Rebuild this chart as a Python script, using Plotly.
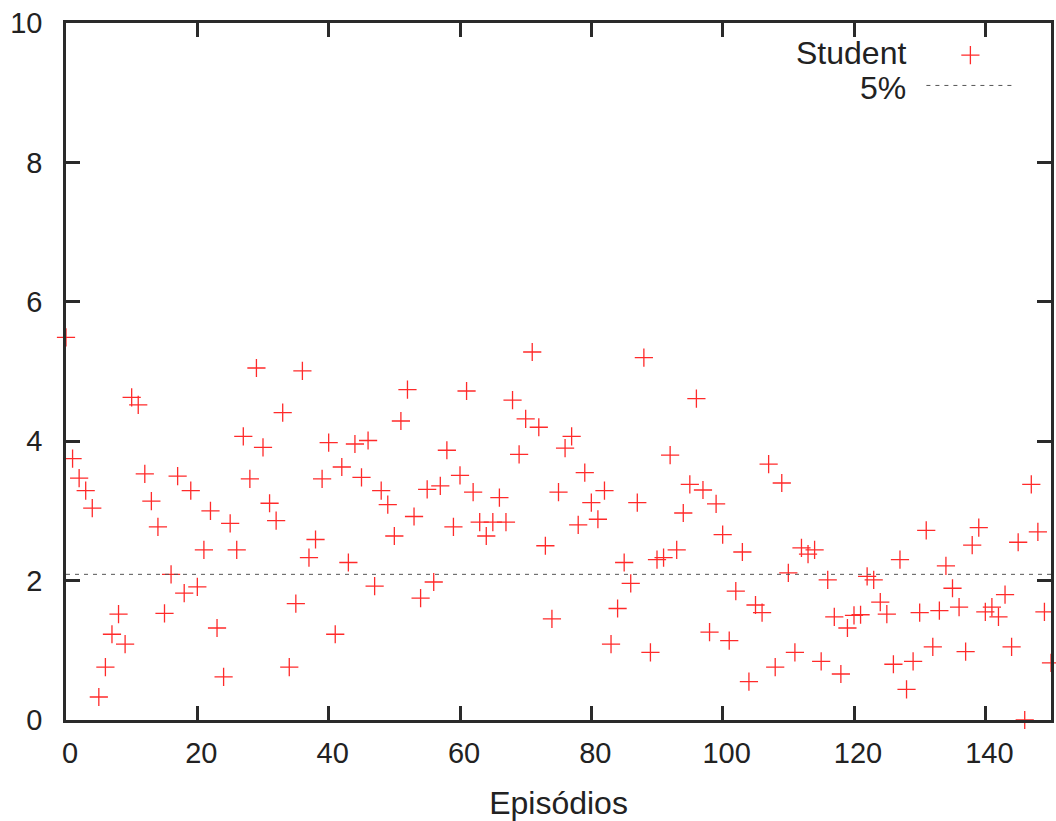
import plotly.graph_objects as go

episodes = list(range(0, 151))
student = [
    5.49, 3.75, 3.47, 3.29, 3.04, 0.33, 0.76, 1.23, 1.52, 1.09,
    4.63, 4.52, 3.53, 3.14, 2.77, 1.53, 2.09, 3.50, 1.82, 3.29,
    1.91, 2.44, 3.00, 1.32, 0.62, 2.82, 2.44, 4.07, 3.46, 5.05,
    3.91, 3.11, 2.86, 4.41, 0.76, 1.67, 5.01, 2.33, 2.59, 3.46,
    3.98, 1.23, 3.63, 2.26, 3.96, 3.48, 4.01, 1.92, 3.29, 3.09,
    2.64, 4.29, 4.74, 2.92, 1.75, 3.31, 1.98, 3.36, 3.87, 2.77,
    3.51, 4.72, 3.27, 2.84, 2.64, 2.84, 3.19, 2.84, 4.59, 3.81,
    4.32, 5.28, 4.20, 2.50, 1.45, 3.27, 3.90, 4.07, 2.80, 3.55,
    3.12, 2.88, 3.29, 1.09, 1.60, 2.26, 1.96, 3.12, 5.20, 0.97,
    2.30, 2.33, 3.80, 2.44, 2.97, 3.38, 4.61, 3.30, 1.26, 3.10,
    2.66, 1.14, 1.85, 2.41, 0.55, 1.65, 1.54, 3.67, 0.76, 3.40,
    2.11, 0.97, 2.47, 2.38, 2.44, 0.84, 2.01, 1.48, 0.66, 1.32,
    1.50, 1.51, 2.06, 2.01, 1.69, 1.52, 0.80, 2.30, 0.44, 0.84,
    1.54, 2.72, 1.05, 1.57, 2.21, 1.89, 1.62, 0.98, 2.51, 2.76,
    1.55, 1.62, 1.48, 1.80, 1.05, 2.55, 0.00, 3.38, 2.70, 1.55,
    0.82,
]
threshold_x = [0, 150]
threshold_y = [2.09, 2.09]
x_ticks = [0, 20, 40, 60, 80, 100, 120, 140]
y_ticks = [0, 2, 4, 6, 8, 10]
legend_labels = ["Student", "5%"]

FONT = "Liberation Sans, Arial, Helvetica, sans-serif"
TXT = "#222222"
AX = "#2a2a2a"

fig = go.Figure()
fig.add_trace(go.Scatter(
    x=episodes, y=student, mode="markers", name="",
    marker=dict(symbol="cross-thin-open", size=13, color="#ff2a2a",
                line=dict(width=1.3, color="#ff2a2a")),
    cliponaxis=False, showlegend=True,
))
fig.add_trace(go.Scatter(
    x=threshold_x, y=threshold_y, mode="lines", name="",
    line=dict(color="#555555", width=1, dash="4px,5px"),
    showlegend=True,
))

axis_common = dict(
    showgrid=False, zeroline=False, showline=True, linecolor=AX, linewidth=2.5,
    mirror="ticks", ticks="inside", ticklen=14, tickwidth=2.5, tickcolor=AX,
    tickfont=dict(family=FONT, size=29, color=TXT),
)
fig.update_xaxes(range=[0, 150], tickmode="array", tickvals=x_ticks,
                 ticklabelstandoff=5, ticklabelshift=4,
                 title=dict(text="Episódios", font=dict(family=FONT, size=32, color=TXT), standoff=28),
                 **axis_common)
fig.update_yaxes(range=[0, 10], tickmode="array", tickvals=y_ticks,
                 ticklabelstandoff=15, **axis_common)

for label, py in zip(legend_labels, [53, 88]):
    fig.add_annotation(text=label, xref="paper", yref="paper",
                       x=(911 - 66) / 988, y=(720 - py) / 697, xanchor="right", yanchor="middle",
                       showarrow=False, font=dict(family=FONT, size=32, color=TXT))

fig.update_layout(
    width=1056, height=821,
    margin=dict(l=66, r=2, t=23, b=101),
    paper_bgcolor="white", plot_bgcolor="white",
    legend=dict(x=(924 - 66) / 988, y=(720 - 35) / 697, xanchor="left", yanchor="top",
                bgcolor="rgba(0,0,0,0)", itemwidth=88, tracegroupgap=0,
                font=dict(family=FONT, size=21, color=TXT)),
)

fig.write_html("out.html", config={"displayModeBar": False},
               post_script="document.body.style.margin='0';")
